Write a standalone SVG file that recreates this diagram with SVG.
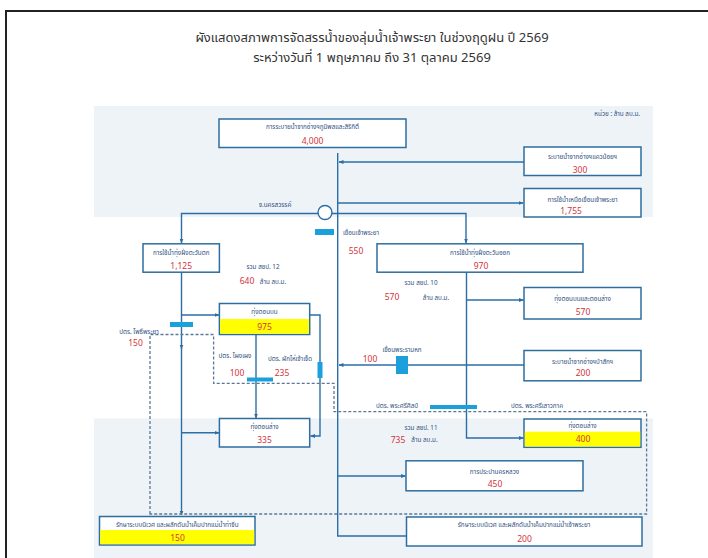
<svg xmlns="http://www.w3.org/2000/svg" width="708" height="558" viewBox="0 0 708 558">
<style>
text{font-family:"Noto Sans Thai","Tahoma","Loma","Garuda","DejaVu Sans","Liberation Sans",sans-serif;}
.title{font-size:13px;fill:#333;text-anchor:middle;}
.lbl{font-size:6.3px;fill:#2f4f7f;text-anchor:middle;dominant-baseline:central;}
.val{font-size:8.5px;fill:#d2343a;text-anchor:middle;dominant-baseline:central;}
.box{fill:#ffffff;stroke:#2e6e9e;stroke-width:1.5;}
.yel{fill:#ffff00;stroke:none;}
.ln{fill:none;stroke:#2b6ea7;stroke-width:1.4;}
.dash{fill:none;stroke:#5b7896;stroke-width:1.3;stroke-dasharray:3 2;}
.mk{fill:#1ca0dc;}
.panel{fill:#eef3f8;}
</style>
<defs>
<marker id="ar" viewBox="0 0 10 10" refX="9" refY="5" markerWidth="5" markerHeight="5" orient="auto" markerUnits="userSpaceOnUse">
<path d="M0,1 L10,5 L0,9 z" fill="#2b6ea7"/>
</marker>
</defs>
<rect x="0" y="0" width="708" height="558" fill="#ffffff"/>
<path d="M6,558 V11 H708" fill="none" stroke="#222" stroke-width="2"/>
<text class="title" x="372" y="42">ผังแสดงสภาพการจัดสรรน้ำของลุ่มน้ำเจ้าพระยา ในช่วงฤดูฝน ปี 2569</text>
<text class="title" x="372" y="62">ระหว่างวันที่ 1 พฤษภาคม ถึง 31 ตุลาคม 2569</text>
<rect class="panel" x="94" y="106" width="559" height="111"/>
<rect class="panel" x="94" y="418.5" width="559" height="139.5"/>
<text class="lbl" x="640" y="114" style="text-anchor:end">หน่วย : ล้าน ลบ.ม.</text>

<g id="connectors">
<path class="ln" d="M337.7,153 V536 H414" marker-end="url(#ar)"/>
<path class="ln" d="M524,162 H339" marker-end="url(#ar)"/>
<path class="ln" d="M338,203 H523" marker-end="url(#ar)"/>
<path class="ln" d="M325,213.5 H181.5 V243" marker-end="url(#ar)"/>
<path class="ln" d="M325,213.5 H466 V243" marker-end="url(#ar)"/>
<path class="ln" d="M181.5,272 V349" marker-end="url(#ar)"/>
<path class="ln" d="M181.5,348 V515" marker-end="url(#ar)"/>
<path class="ln" d="M181.5,315 H219" marker-end="url(#ar)"/>
<path class="ln" d="M181.5,432.7 H219" marker-end="url(#ar)"/>
<path class="ln" d="M256,334.5 V418" marker-end="url(#ar)"/>
<path class="ln" d="M309.7,315 H320 V436 H310.5" marker-end="url(#ar)"/>
<path class="ln" d="M466.5,272 V438 H523.5" marker-end="url(#ar)"/>
<path class="ln" d="M466.5,300 H523.5" marker-end="url(#ar)"/>
<path class="ln" d="M524,365 H339" marker-end="url(#ar)"/>
<path class="ln" d="M338,476 H405.5" marker-end="url(#ar)"/>
<path class="dash" d="M150,514 V334.5 H213.6 V383.3 H334 V411.7 H646.6 V514 Z"/>
<circle cx="325" cy="212.5" r="7" fill="#ffffff" stroke="#2b6ea7" stroke-width="1.4"/>
<rect class="mk" x="315" y="229" width="19" height="6"/>
<rect class="mk" x="170" y="322" width="23" height="5"/>
<rect class="mk" x="247" y="377.5" width="26" height="4"/>
<rect class="mk" x="317.5" y="362" width="5" height="16"/>
<rect class="mk" x="396" y="356" width="12" height="18"/>
<rect class="mk" x="430" y="405" width="47" height="4"/>
</g>

<g id="labels">
<text class="lbl" x="275" y="205">จ.นครสวรรค์</text>
<text class="lbl" x="343" y="233" style="text-anchor:start">เขื่อนเจ้าพระยา</text>
<text class="val" x="356" y="251.5">550</text>
<text class="lbl" x="263" y="266.5">รวม สชป. 12</text>
<text class="val" x="247" y="281.5">640</text>
<text class="lbl" x="273" y="281.5">ล้าน ลบ.ม.</text>
<text class="lbl" x="421" y="283">รวม สชป. 10</text>
<text class="val" x="392" y="297.5">570</text>
<text class="lbl" x="436" y="297.5">ล้าน ลบ.ม.</text>
<text class="lbl" x="139" y="331.7">ปตร. โพธิ์พระยา</text>
<text class="val" x="135.5" y="343.4">150</text>
<text class="lbl" x="235" y="356">ปตร. โผงเผง</text>
<text class="lbl" x="290" y="359.4">ปตร. ผักไห่เจ้าเจ็ด</text>
<text class="val" x="237" y="373.5">100</text>
<text class="val" x="282" y="373.5">235</text>
<text class="lbl" x="402" y="350">เขื่อนพระรามหก</text>
<text class="val" x="370" y="359">100</text>
<text class="lbl" x="397" y="405.7">ปตร. พระศรีศิลป์</text>
<text class="lbl" x="537" y="405.7">ปตร. พระศรีเสาวภาค</text>
<text class="lbl" x="421" y="427.7">รวม สชป. 11</text>
<text class="val" x="398" y="440">735</text>
<text class="lbl" x="424.5" y="440">ล้าน ลบ.ม.</text>
</g>

<g id="n-bhumibol">
<rect class="box" x="219" y="119" width="187" height="28.5"/>
<text class="lbl" x="312.5" y="127">การระบายน้ำจากอ่างฯภูมิพลและสิริกิติ์</text>
<text class="val" x="312.5" y="141">4,000</text>
</g>
<g id="n-kwaenoi">
<rect class="box" x="524" y="147" width="117" height="28.5"/>
<text class="lbl" x="582.5" y="157">ระบายน้ำจากอ่างฯแควน้อยฯ</text>
<text class="val" x="580" y="170.5">300</text>
</g>
<g id="n-upper">
<rect class="box" x="524" y="188.5" width="117" height="28.5"/>
<text class="lbl" x="582.5" y="199.5">การใช้น้ำเหนือเขื่อนเจ้าพระยา</text>
<text class="val" x="571" y="211.5">1,755</text>
</g>
<g id="n-west">
<rect class="box" x="143" y="243.8" width="76.4" height="28.4"/>
<text class="lbl" x="181.2" y="252.7">การใช้น้ำทุ่งฝั่งตะวันตก</text>
<text class="val" x="181.2" y="266">1,125</text>
</g>
<g id="n-east">
<rect class="box" x="377" y="243.8" width="206" height="28.4"/>
<text class="lbl" x="480" y="252.7">การใช้น้ำทุ่งฝั่งตะวันออก</text>
<text class="val" x="481" y="266">970</text>
</g>
<g id="n-east-fields">
<rect class="box" x="524" y="287.5" width="117" height="31.5"/>
<text class="lbl" x="582.5" y="299">ทุ่งตอนบนและตอนล่าง</text>
<text class="val" x="583" y="312.3">570</text>
</g>
<g id="n-west-upper">
<rect class="box" x="219.4" y="303.5" width="90.3" height="31"/>
<rect class="yel" x="220.2" y="319" width="88.7" height="14.7"/>
<text class="lbl" x="264.5" y="312">ทุ่งตอนบน</text>
<text class="val" x="264.5" y="327">975</text>
</g>
<g id="n-pasak">
<rect class="box" x="524" y="350.5" width="117" height="30.3"/>
<text class="lbl" x="582.5" y="361.7">ระบายน้ำจากอ่างฯป่าสักฯ</text>
<text class="val" x="583" y="373.3">200</text>
</g>
<g id="n-west-lower">
<rect class="box" x="219.4" y="418.5" width="90.3" height="28.5"/>
<text class="lbl" x="264.5" y="427.3">ทุ่งตอนล่าง</text>
<text class="val" x="264.5" y="440">335</text>
</g>
<g id="n-east-lower">
<rect class="box" x="524" y="419" width="117" height="28.3"/>
<rect class="yel" x="524.8" y="431.7" width="115.4" height="14.8"/>
<text class="lbl" x="582.5" y="426">ทุ่งตอนล่าง</text>
<text class="val" x="583" y="439.5">400</text>
</g>
<g id="n-mwa">
<rect class="box" x="406" y="460.8" width="177" height="30"/>
<text class="lbl" x="494.5" y="472.3">การประปานครหลวง</text>
<text class="val" x="495" y="484">450</text>
</g>
<g id="n-thachin">
<rect class="box" x="99.5" y="516.5" width="155.5" height="28.5"/>
<rect class="yel" x="100.3" y="530" width="153.9" height="14.2"/>
<text class="lbl" x="177.3" y="524.5">รักษาระบบนิเวศ และผลักดันน้ำเค็มปากแม่น้ำท่าจีน</text>
<text class="val" x="177.5" y="538.5">150</text>
</g>
<g id="n-chaophraya">
<rect class="box" x="406.5" y="517" width="235.5" height="29"/>
<text class="lbl" x="524" y="525">รักษาระบบนิเวศ และผลักดันน้ำเค็มปากแม่น้ำเจ้าพระยา</text>
<text class="val" x="524.5" y="539">200</text>
</g>
</svg>
